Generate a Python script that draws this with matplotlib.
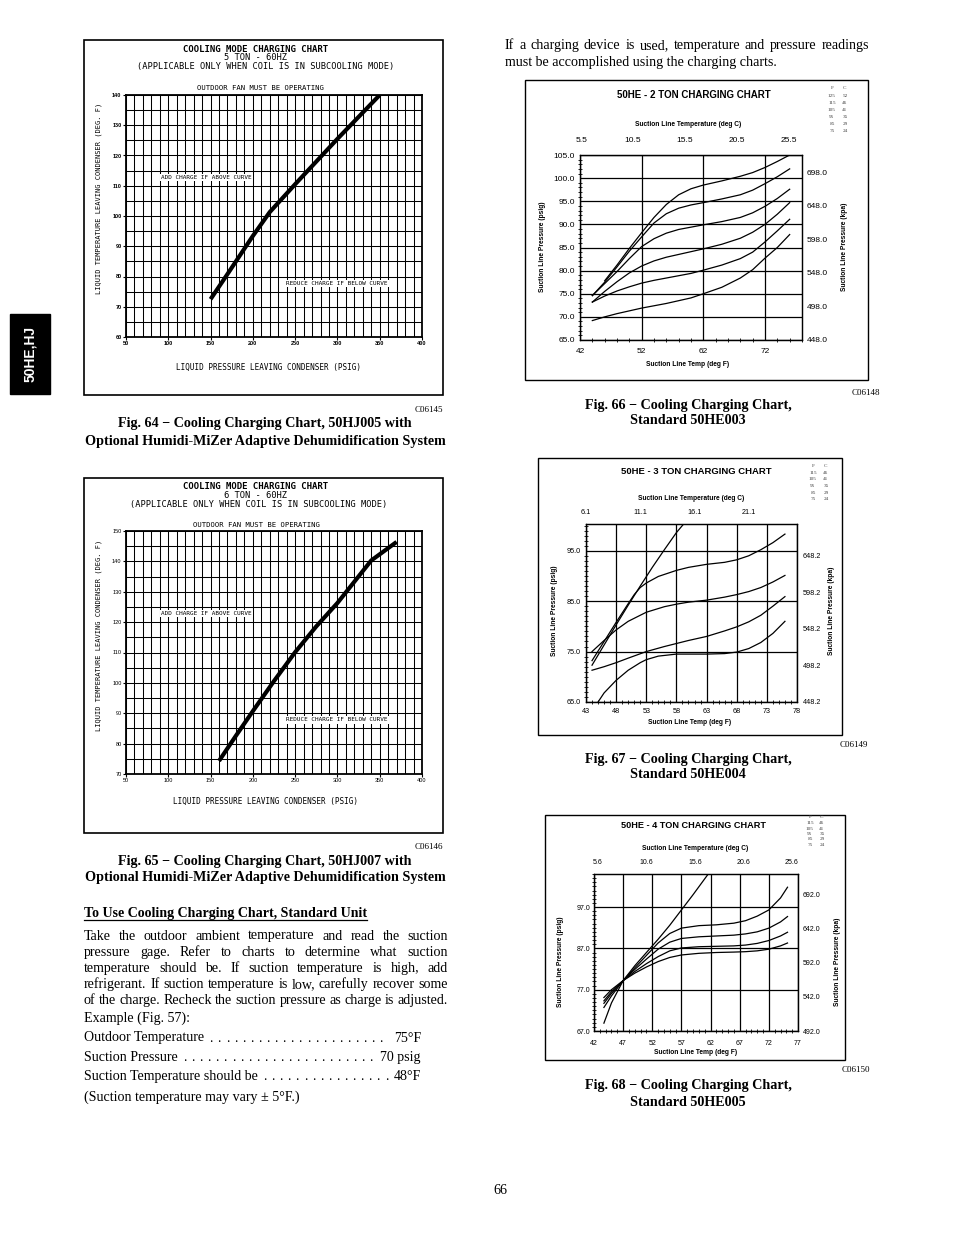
import matplotlib
matplotlib.use("Agg")
import matplotlib.pyplot as plt
from matplotlib.patches import Rectangle
from matplotlib.lines import Line2D
from matplotlib.ticker import MultipleLocator
import numpy as np

# ---------------- data ----------------
# Fig 64 - 50HJ005 (5 ton) liquid pressure (psig) vs liquid temp (deg F)
hj005_psig = [150, 170, 200, 220, 250, 280, 300, 350]
hj005_temp = [72.5, 80.8, 93.4, 101.3, 110.5, 119.5, 125.5, 140.0]
# Fig 65 - 50HJ007 (6 ton)
hj007_psig = [160, 180, 200, 225, 250, 275, 300, 320, 340, 370]
hj007_temp = [74.3, 82.6, 90.7, 100.6, 110.1, 118.6, 126.3, 133.3, 140.3, 146.4]

# Fig 66 - 50HE003 (2 ton), suction temp (F) vs suction pressure (psig)
he003_temp_a = [46, 48, 50, 52, 54, 56, 58, 60, 62, 65, 68, 70, 72, 74, 76]
he003_psig_125 = [77.8, 81.2, 84.8, 88.2, 91.5, 94.3, 96.4, 97.7, 98.5, 99.4, 100.4, 101.2, 102.3, 103.6, 105.0]
he003_temp_b = [44, 46, 48, 50, 52, 54, 56, 58, 60, 62, 65, 68, 70, 72, 74, 76]
he003_psig_115 = [74.6, 77.5, 80.8, 84.2, 87.3, 90.3, 92.3, 93.5, 94.2, 94.7, 95.5, 96.4, 97.4, 98.8, 100.3, 102.0]
he003_psig_105 = [74.6, 77.2, 79.8, 82.6, 85.2, 86.9, 88.1, 88.9, 89.4, 89.9, 90.6, 91.5, 92.5, 93.9, 95.6, 97.6]
he003_psig_95 = [73.2, 75.5, 77.6, 79.5, 81.0, 82.1, 82.9, 83.5, 84.1, 84.7, 85.7, 87.0, 88.3, 90.0, 92.2, 94.7]
he003_psig_85 = [73.2, 74.5, 75.6, 76.5, 77.3, 77.9, 78.4, 78.9, 79.4, 80.1, 81.2, 82.6, 84.0, 86.2, 88.6, 91.1]
he003_psig_75 = [69.2, 70.0, 70.7, 71.3, 71.9, 72.4, 72.9, 73.5, 74.1, 75.0, 76.4, 78.4, 80.2, 82.7, 85.0, 87.8]
he003_kpa = ["448.0", "498.0", "548.0", "598.0", "648.0", "698.0"]
he003_degc = ["5.5", "10.5", "15.5", "20.5", "25.5"]
he003_degc_at_f = [42.2, 50.6, 59.0, 67.4, 75.8]
he003_key_f = ["125", "115", "105", "95", "85", "75"]
he003_key_c = ["52", "46", "41", "35", "29", "24"]

# Fig 67 - 50HE004 (3 ton)
he004_temp_steep = [44, 46, 48, 50, 52, 54, 56, 58, 59.2]
he004_psig_steep = [72.3, 76.3, 80.3, 84.2, 88.0, 91.7, 95.2, 98.6, 100.3]
he004_temp_top = [44, 46, 48, 50, 51, 52, 53, 55, 58, 60, 63, 66, 68, 70, 72, 74, 76]
he004_psig_top = [73.2, 77.0, 80.8, 84.5, 86.3, 87.7, 88.6, 89.9, 91.1, 91.7, 92.3, 92.7, 93.2, 94.0, 95.2, 96.6, 98.3]
he004_temp_mid = [44, 46, 48, 50, 53, 56, 58, 60, 63, 66, 68, 70, 72, 74, 76]
he004_psig_mid = [75.0, 77.2, 79.3, 81.0, 82.8, 83.9, 84.4, 84.8, 85.2, 85.8, 86.3, 86.9, 87.7, 88.8, 90.1]
he004_psig_low = [71.3, 72.0, 72.8, 73.7, 75.0, 76.0, 76.6, 77.2, 78.0, 79.1, 79.9, 80.9, 82.2, 84.0, 85.9]
he004_temp_bot = [45, 46, 48, 50, 52, 53, 55, 58, 60, 63, 66, 68, 70, 72, 74, 76]
he004_psig_bot = [65.0, 66.8, 69.3, 71.3, 72.8, 73.4, 74.1, 74.5, 74.5, 74.5, 74.6, 74.9, 75.6, 76.8, 78.6, 81.0]
he004_kpa = ["448.2", "498.2", "548.2", "598.2", "648.2"]
he004_degc = ["6.1", "11.1", "16.1", "21.1"]
he004_degc_at_f = [43, 52, 61, 70]

# Fig 68 - 50HE005 (4 ton)
he005_temp_steep = [43.7, 45, 47, 49, 51, 53, 55, 57, 59, 61.6]
he005_psig_steep = [68.9, 73.8, 79.2, 82.8, 86.0, 89.2, 92.6, 96.3, 100.0, 105.0]
he005_temp = [43.7, 45, 47, 49, 51, 53, 55, 57, 60, 63, 66, 68, 70, 72, 74, 75.2]
he005_psig_a = [72.7, 75.5, 79.2, 82.3, 85.3, 88.3, 90.6, 91.9, 92.5, 92.7, 93.1, 93.7, 94.8, 96.3, 99.2, 101.8]
he005_psig_b = [73.7, 76.1, 79.2, 81.9, 84.4, 86.8, 88.5, 89.4, 89.8, 90.0, 90.2, 90.5, 91.0, 91.9, 93.4, 94.7]
he005_psig_c = [74.3, 76.5, 79.2, 81.4, 83.3, 85.0, 86.4, 87.1, 87.4, 87.5, 87.6, 87.8, 88.2, 88.9, 90.0, 90.9]
he005_psig_d = [75.1, 77.0, 79.2, 81.0, 82.5, 83.8, 84.8, 85.4, 85.8, 86.0, 86.1, 86.2, 86.4, 86.8, 87.6, 88.3]
he005_kpa = ["492.0", "542.0", "592.0", "642.0", "692.0"]
he005_degc = ["5.6", "10.6", "15.6", "20.6", "25.6"]
he005_degc_at_f = [42.7, 51.0, 59.3, 67.6, 75.9]
he_key_f = ["115", "105", "95", "85", "75"]
he_key_c = ["46", "41", "35", "29", "24"]

# ---------------- page ----------------
W, H = 954, 1235
plt.rcParams['font.family'] = ['Liberation Sans', 'DejaVu Sans']
MONO = 'DejaVu Sans Mono'
SERIF = 'Liberation Serif'
CAP = 10.2

fig = plt.figure(figsize=(W / 100, H / 100), dpi=100)
renderer = fig.canvas.get_renderer()


def fx(x):
    return x / W


def fy(y):
    return 1 - y / H


def axes_px(x0, y0, x1, y1):
    return fig.add_axes([fx(x0), fy(y1), (x1 - x0) / W, (y1 - y0) / H])


def box(x0, y0, x1, y1, lw=1.0, fill=False, color='black'):
    fig.patches.append(Rectangle((fx(x0), fy(y1)), (x1 - x0) / W, (y1 - y0) / H,
                                 transform=fig.transFigure, fill=fill, lw=lw,
                                 ec=color, fc=color if fill else 'none'))


def ptext(x, y, s, **kw):
    return fig.text(fx(x), fy(y), s, **kw)


def hline(x0, x1, y, lw=1.0):
    fig.add_artist(Line2D([fx(x0), fx(x1)], [fy(y), fy(y)], transform=fig.transFigure,
                          color='black', lw=lw))


# side tab
box(10, 314, 50, 394, fill=True)
ptext(30, 354, "50HE,HJ", color='white', fontsize=10, fontweight='bold',
      rotation=90, ha='center', va='center')


def liquid_chart(ax_px, ylim, psig, temp, titles, add_xy, red_xy, ylab_xy, xlab_xy, bold_ticks):
    ax = axes_px(*ax_px)
    ax.plot(psig, temp, color='black', lw=3.0, solid_capstyle='butt', zorder=3)
    ax.set_xlim(50, 400)
    ax.set_ylim(*ylim)
    xt = np.arange(50, 401, 50)
    yt = np.arange(ylim[0], ylim[1] + 1, 10)
    wt = 'bold' if bold_ticks else 'normal'
    ax.set_xticks(xt, [str(v) for v in xt], fontsize=4, fontweight=wt)
    ax.set_yticks(yt, [str(v) for v in yt], fontsize=4, fontweight=wt)
    ax.xaxis.set_minor_locator(MultipleLocator(10))
    ax.yaxis.set_minor_locator(MultipleLocator(5))
    ax.grid(True, which='both', color='black', lw=0.75)
    ax.tick_params(which='both', length=2, width=0.8, direction='out', pad=1.2)
    ax.tick_params(which='minor', length=0)
    for s in ax.spines.values():
        s.set_linewidth(1.3)
    ax.text(add_xy[0], add_xy[1], "ADD CHARGE IF ABOVE CURVE", ha='center', va='center',
            fontsize=4.3, family=MONO, zorder=4,
            bbox=dict(fc='white', ec='none', pad=1.0))
    ax.text(red_xy[0], red_xy[1], "REDUCE CHARGE IF BELOW CURVE", ha='center', va='center',
            fontsize=4.3, family=MONO, zorder=4,
            bbox=dict(fc='white', ec='none', pad=1.0))
    for (x, y, s, size, w) in titles:
        ptext(x, y, s, ha='center', va='center', fontsize=size, fontweight=w, family=MONO)
    ptext(ylab_xy[0], ylab_xy[1], "LIQUID TEMPERATURE LEAVING CONDENSER (DEG. F)",
          rotation=90, ha='center', va='center', fontsize=5, family=MONO)
    ptext(xlab_xy[0], xlab_xy[1], "LIQUID PRESSURE LEAVING CONDENSER (PSIG)",
          ha='center', va='center', fontsize=5.5, family=MONO)
    return ax


def caption(x, y1, y2, l1, l2):
    ptext(x, y1, l1, ha='center', va='center', fontsize=CAP, fontweight='bold', family=SERIF)
    ptext(x, y2, l2, ha='center', va='center', fontsize=CAP, fontweight='bold', family=SERIF)


# Fig 64
box(84, 40, 443, 395, lw=1.2)
liquid_chart((126, 95, 422, 337), (60, 140), hj005_psig, hj005_temp,
             [(256, 49.5, "COOLING MODE CHARGING CHART", 6.5, 'bold'),
              (256, 57.5, "5 TON - 60HZ", 6.3, 'normal'),
              (266, 66.5, "(APPLICABLE ONLY WHEN COIL IS IN SUBCOOLING MODE)", 6.2, 'normal'),
              (260, 88, "OUTDOOR FAN MUST BE OPERATING", 5.2, 'normal')],
             (145, 112.7), (299.5, 77.7), (99, 198), (268, 367), True)
ptext(443, 410, "C06145", ha='right', va='center', fontsize=6.5, family=SERIF)
caption(265, 424, 441, "Fig. 64 \u2212 Cooling Charging Chart, 50HJ005 with",
        "Optional Humidi-MiZer Adaptive Dehumidification System")

# Fig 65
box(84, 478, 443, 833, lw=1.2)
liquid_chart((126, 531, 422, 774), (70, 150), hj007_psig, hj007_temp,
             [(256, 486.5, "COOLING MODE CHARGING CHART", 6.5, 'bold'),
              (256, 495.5, "6 TON - 60HZ", 6.3, 'normal'),
              (259, 504.5, "(APPLICABLE ONLY WHEN COIL IS IN SUBCOOLING MODE)", 6.2, 'normal'),
              (256, 525, "OUTDOOR FAN MUST BE OPERATING", 5.2, 'normal')],
             (145, 122.8), (299.5, 87.8), (99, 635), (266, 801), False)
ptext(443, 847, "C06146", ha='right', va='center', fontsize=6.5, family=SERIF)
caption(265, 861, 877, "Fig. 65 \u2212 Cooling Charging Chart, 50HJ007 with",
        "Optional Humidi-MiZer Adaptive Dehumidification System")


def suction_chart(ax_px, xlim, ylim, xlabels, ygrid_step, ylabels, xminor, curves,
                  top_pos, top_lab, right_pos, right_lab, fs, pads,
                  title, tsize, title_xy, degc_xy, xlab_xy, ylab_l, ylab_r,
                  key_f, key_c, key_x, key_y):
    ax = axes_px(*ax_px)
    for xs, ys in curves:
        ax.plot(xs, ys, color='black', lw=0.9)
    ax.set_xlim(*xlim)
    ax.set_ylim(*ylim)
    ax.set_xticks(xlabels, [str(v) for v in xlabels])
    ax.set_yticks(ylabels, ["%.1f" % v for v in ylabels])
    ax.xaxis.set_minor_locator(MultipleLocator(xminor))
    ax.yaxis.set_minor_locator(MultipleLocator(1))
    ax.tick_params(which='major', length=0, labelsize=fs)
    ax.tick_params(axis='x', pad=pads[0])
    ax.tick_params(axis='y', pad=pads[1])
    ax.tick_params(which='minor', direction='inout', length=3, width=0.6,
                   top=True, right=True)
    # grid lines
    for g in xlabels:
        ax.axvline(g, color='black', lw=0.9)
    for g in np.arange(ylim[0], ylim[1] + 0.01, ygrid_step):
        ax.axhline(g, color='black', lw=0.9)
    for s in ax.spines.values():
        s.set_linewidth(0.9)
    axr = ax.twinx()
    axr.set_ylim(*ylim)
    axr.set_yticks(right_pos, right_lab)
    axr.tick_params(length=0, labelsize=fs, pad=pads[2])
    axt = ax.twiny()
    axt.set_xlim(*xlim)
    axt.set_xticks(top_pos, top_lab)
    axt.tick_params(length=0, labelsize=fs, pad=pads[3])
    ptext(title_xy[0], title_xy[1], title, ha='center', va='center',
          fontsize=tsize, fontweight='bold')
    ptext(degc_xy[0], degc_xy[1], "Suction Line Temperature (deg C)", ha='center',
          va='center', fontsize=4.8, fontweight='bold')
    ptext(xlab_xy[0], xlab_xy[1], "Suction Line Temp (deg F)", ha='center',
          va='center', fontsize=4.8, fontweight='bold')
    ptext(ylab_l[0], ylab_l[1], "Suction Line Pressure (psig)", ha='center',
          va='center', fontsize=4.8, fontweight='bold', rotation=90)
    ptext(ylab_r[0], ylab_r[1], "Suction Line Pressure (kpa)", ha='center',
          va='center', fontsize=4.8, fontweight='bold', rotation=90)
    kw = dict(ha='center', va='center', fontsize=3.8, family=SERIF, color='#444444')
    ptext(key_x[0], key_y[0], "F", **kw)
    ptext(key_x[1], key_y[0], "C", **kw)
    for i, (f, c) in enumerate(zip(key_f, key_c)):
        ptext(key_x[0], key_y[i + 1], f, **kw)
        ptext(key_x[1], key_y[i + 1], c, **kw)
    return ax


# Fig 66
box(525, 80, 868, 380)
suction_chart((580, 155, 802, 340), (42, 78), (65, 105), [42, 52, 62, 72], 5,
              list(range(65, 106, 5)), 2,
              [(he003_temp_a, he003_psig_125), (he003_temp_b, he003_psig_115),
               (he003_temp_b, he003_psig_105), (he003_temp_b, he003_psig_95),
               (he003_temp_b, he003_psig_85), (he003_temp_b, he003_psig_75)],
              he003_degc_at_f, he003_degc,
              [float(k) / 6.895 for k in he003_kpa], he003_kpa, 6,
              (6, 3.6, 3.6, 8),
              "50HE - 2 TON CHARGING CHART", 7.0, (694, 95), (688, 124), (688, 365),
              (543, 247), (845, 247), he003_key_f, he003_key_c, (832, 845),
              [88, 96, 103, 110, 117, 124, 131])
ptext(880, 393, "C06148", ha='right', va='center', fontsize=6.5, family=SERIF)
caption(688, 405, 421, "Fig. 66 \u2212 Cooling Charging Chart,", "Standard 50HE003")

# Fig 67
box(538, 458, 842, 735)
suction_chart((586, 524, 797, 702), (43, 78), (65, 100.3), list(range(43, 79, 5)), 10,
              [65, 75, 85, 95], 1,
              [(he004_temp_steep, he004_psig_steep), (he004_temp_top, he004_psig_top),
               (he004_temp_mid, he004_psig_mid), (he004_temp_mid, he004_psig_low),
               (he004_temp_bot, he004_psig_bot)],
              he004_degc_at_f, he004_degc,
              [float(k) / 6.895 for k in he004_kpa], he004_kpa, 5.2,
              (4, 3.6, 4.3, 5.8),
              "50HE - 3 TON CHARGING CHART", 6.8, (696, 471), (691, 498), (690, 723),
              (555, 611), (832, 611), he_key_f, he_key_c, (813, 826),
              [466, 473, 479, 486, 493, 499])
ptext(868, 745, "C06149", ha='right', va='center', fontsize=6.5, family=SERIF)
caption(688, 759, 775, "Fig. 67 \u2212 Cooling Charging Chart,", "Standard 50HE004")

# Fig 68
box(545, 815, 845, 1060)
suction_chart((594, 874, 798, 1031), (42, 77), (67, 105), list(range(42, 78, 5)), 10,
              [67, 77, 87, 97], 1,
              [(he005_temp_steep, he005_psig_steep), (he005_temp, he005_psig_a),
               (he005_temp, he005_psig_b), (he005_temp, he005_psig_c),
               (he005_temp, he005_psig_d)],
              he005_degc_at_f, he005_degc,
              [67 + (float(k) - 492) / 6.06 for k in he005_kpa], he005_kpa, 5,
              (6.5, 2.9, 3.6, 6),
              "50HE - 4 TON CHARGING CHART", 6.6, (694, 825), (695, 848), (696, 1052),
              (560, 962), (838, 962), he_key_f, he_key_c, (810, 822),
              [817, 823, 829, 834, 839, 845])
ptext(870, 1070, "C06150", ha='right', va='center', fontsize=6.5, family=SERIF)
caption(688, 1085, 1102, "Fig. 68 \u2212 Cooling Charging Chart,", "Standard 50HE005")

# ---------------- body text ----------------
para_left = ["Take the outdoor ambient temperature and read the suction",
             "pressure gage. Refer to charts to determine what suction",
             "temperature should be. If suction temperature is high, add",
             "refrigerant. If suction temperature is low, carefully recover some",
             "of the charge. Recheck the suction pressure as charge is adjusted."]
para_right = ["If a charging device is used, temperature and pressure readings",
              "must be accomplished using the charging charts."]

# size body text so the tightest line fills the 364 px column
probe = ptext(0, 0, para_left[3], fontsize=10, family=SERIF)
BODY = 10 * 360 / probe.get_window_extent(renderer).width
probe.remove()


def justified(lines, x0, x1, y0, dy, justify_last):
    for i, line in enumerate(lines):
        y = y0 + i * dy
        if i == len(lines) - 1 and not justify_last:
            ptext(x0, y, line, fontsize=BODY, family=SERIF, va='baseline')
            continue
        words = line.split(' ')
        arts = [ptext(x0, y, w, fontsize=BODY, family=SERIF, va='baseline') for w in words]
        widths = [a.get_window_extent(renderer).width for a in arts]
        gap = (x1 - x0 - sum(widths)) / (len(words) - 1)
        x = x0
        for a, w in zip(arts, widths):
            a.set_x(fx(x))
            x += w + gap


justified(para_right, 505, 869, 49, 17, False)

head = ptext(84, 917, "To Use Cooling Charging Chart, Standard Unit", fontsize=10.1,
             fontweight='bold', family=SERIF, va='baseline')
hw = head.get_window_extent(renderer).width
hline(84, 84 + hw, 920, lw=0.9)

justified(para_left, 84, 448, 939.5, 16.1, True)

ptext(84, 1022, "Example (Fig. 57):", fontsize=BODY, family=SERIF, va='baseline')
example_labels = ["Outdoor Temperature", "Suction Pressure", "Suction Temperature should be"]
example_values = ["75\u00b0F", "70 psig", "48\u00b0F"]
for i, (lab, val) in enumerate(zip(example_labels, example_values)):
    y = 1041.5 + i * 19.4
    t = ptext(84, y, lab, fontsize=BODY, family=SERIF, va='baseline')
    v = ptext(421, y, val, fontsize=BODY, family=SERIF, va='baseline', ha='right')
    lend = 84 + t.get_window_extent(renderer).width
    vstart = 421 - v.get_window_extent(renderer).width
    d = lend + 7
    while d < vstart - 7:
        ptext(d, y, ".", fontsize=BODY, family=SERIF, va='baseline', ha='center')
        d += 8.1
ptext(84, 1101, "(Suction temperature may vary \u00b1 5\u00b0F.)", fontsize=BODY,
      family=SERIF, va='baseline')

ptext(500, 1190, "66", fontsize=BODY, family=SERIF, ha='center', va='center')

fig.savefig("out.png", dpi=100)
